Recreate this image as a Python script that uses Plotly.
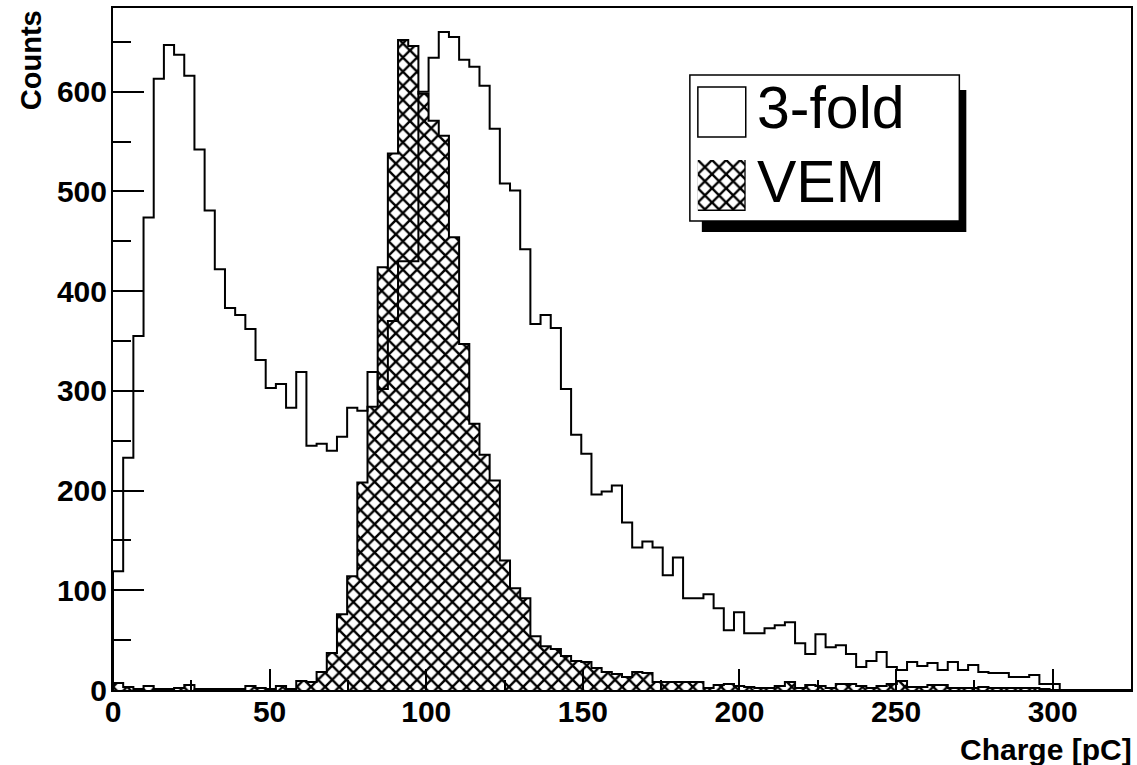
import plotly.graph_objects as go

# ---- data (100 bins, 0-325 pC, width 3.25 pC) ----
bin_low = 0.0
bin_width = 3.25
threefold_counts = [
    119, 233, 355, 474, 613, 647, 637, 616, 542, 481,
    422, 383, 376, 362, 331, 303, 307, 283, 319, 245,
    247, 240, 254, 283, 280, 319, 302, 370, 430, 430,
    600, 634, 660, 655, 632, 625, 606, 563, 508, 501,
    442, 367, 376, 363, 302, 256, 237, 196, 199, 205,
    168, 143, 149, 143, 115, 133, 92, 92, 96, 82,
    60, 78, 57, 57, 62, 65, 68, 47, 36, 56,
    43, 45, 36, 23, 29, 38, 23, 20, 28, 24,
    27, 20, 28, 20, 25, 18, 17, 17, 13, 13,
    15, 6, 6, 0, 0, 0, 0, 0, 0, 0,
]
vem_counts = [
    7, 3, 1, 4, 1, 1, 2, 5, 1, 1,
    1, 1, 1, 4, 2, 1, 4, 1, 9, 8,
    18, 37, 76, 114, 208, 284, 424, 538, 652, 646,
    598, 571, 556, 454, 347, 267, 236, 210, 130, 102,
    92, 54, 44, 41, 34, 29, 28, 22, 18, 16,
    13, 18, 17, 8, 8, 8, 8, 8, 2, 5,
    6, 4, 3, 2, 2, 4, 8, 2, 5, 4,
    2, 6, 6, 4, 2, 4, 6, 9, 3, 3,
    5, 5, 2, 2, 2, 3, 2, 2, 2, 2,
    2, 1, 0, 0, 0, 0, 0, 0, 0, 0,
]
x_tick_values = [0, 50, 100, 150, 200, 250, 300]
y_tick_values = [0, 100, 200, 300, 400, 500, 600]
series_names = ["3-fold", "VEM"]
x_title = "Charge [pC]"
y_title = "Counts"

n = len(threefold_counts)
edges = [bin_low + i * bin_width for i in range(n + 1)]
centers = [bin_low + (i + 0.5) * bin_width for i in range(n)]

# ---- layout geometry (pixels) ----
W, H = 1137, 765
L, R, T, B = 113, 4, 8, 75
PW, PH = W - L - R, H - T - B


def px(xp):
    return (xp - L) / PW


def py(yp):
    return (H - B - yp) / PH


FONT = "Liberation Sans"
hatch = dict(shape="x", fgcolor="black", size=10, solidity=0.42, fillmode="replace")

fig = go.Figure()

# 3-fold outline (step)
fig.add_trace(go.Scatter(
    x=[edges[0]] + edges, y=[0] + threefold_counts + [threefold_counts[-1]],
    mode="lines", line=dict(color="black", width=2, shape="hv"),
    showlegend=False, hoverinfo="skip"))

# VEM hatched fill
fig.add_trace(go.Bar(
    x=centers, y=vem_counts, width=bin_width,
    marker=dict(color="black", line=dict(width=0),
                pattern=dict(hatch, bgcolor="rgba(0,0,0,0)")),
    showlegend=False, hoverinfo="skip"))

# VEM outline
fig.add_trace(go.Scatter(
    x=[edges[0]] + edges, y=[0] + vem_counts + [vem_counts[-1]],
    mode="lines", line=dict(color="black", width=2, shape="hv"),
    showlegend=False, hoverinfo="skip"))

# legend hatched swatch drawn with a tiny bar on its own axes
fig.add_trace(go.Bar(
    x=[0], y=[1], width=1, xaxis="x2", yaxis="y2",
    marker=dict(color="black", line=dict(color="black", width=1.5),
                pattern=dict(hatch, bgcolor="white")),
    showlegend=False, hoverinfo="skip"))

tickfont = dict(family=FONT, size=30, color="black", weight="bold")

fig.update_layout(
    width=W, height=H,
    margin=dict(l=L, r=R, t=T, b=B, pad=0),
    paper_bgcolor="white", plot_bgcolor="white",
    bargap=0, barmode="overlay", showlegend=False,
    xaxis=dict(range=[0, 325], tickvals=x_tick_values, ticks="inside",
               ticklen=21, tickwidth=1.5, tickcolor="black",
               minor=dict(dtick=25, tick0=0, ticks="inside", ticklen=10,
                          tickwidth=1.5, tickcolor="black"),
               showline=True, linecolor="black", linewidth=2, mirror=True,
               showgrid=False, zeroline=False, tickfont=tickfont,
               ticklabelstandoff=-6),
    yaxis=dict(range=[0, 684], tickvals=y_tick_values, ticks="inside",
               ticklen=31, tickwidth=1.5, tickcolor="black",
               minor=dict(dtick=50, tick0=0, ticks="inside", ticklen=18,
                          tickwidth=1.5, tickcolor="black"),
               showline=True, linecolor="black", linewidth=2, mirror=True,
               showgrid=False, zeroline=False, tickfont=tickfont,
               ticklabelstandoff=-2),
    xaxis2=dict(domain=[px(699), px(747)], range=[-0.5, 0.5], anchor="y2",
                visible=False, fixedrange=True),
    yaxis2=dict(domain=[py(211), py(160)], range=[0, 1], anchor="x2",
                visible=False, fixedrange=True),
)

shapes = [
    # legend shadow
    dict(type="rect", xref="paper", yref="paper", x0=px(703), x1=px(968),
         y0=py(232), y1=py(90), fillcolor="black", line=dict(width=0), layer="below"),
    # legend box
    dict(type="rect", xref="paper", yref="paper", x0=px(691), x1=px(961),
         y0=py(221), y1=py(75), fillcolor="white",
         line=dict(color="black", width=1.5), layer="below"),
    # 3-fold swatch
    dict(type="rect", xref="paper", yref="paper", x0=px(699), x1=px(747),
         y0=py(137), y1=py(87), fillcolor="white",
         line=dict(color="black", width=1.5), layer="below"),
]
fig.update_layout(shapes=shapes)

annotations = [
    dict(text=series_names[0], xref="paper", yref="paper", x=px(756), y=py(108),
         xanchor="left", yanchor="middle", showarrow=False,
         font=dict(family=FONT, size=59, color="black")),
    dict(text=series_names[1], xref="paper", yref="paper", x=px(756), y=py(182),
         xanchor="left", yanchor="middle", showarrow=False,
         font=dict(family=FONT, size=59, color="black")),
    dict(text=x_title, xref="paper", yref="paper", x=px(1136), y=py(749),
         xanchor="right", yanchor="middle", showarrow=False,
         font=dict(family=FONT, size=30, color="black", weight="bold")),
    dict(text=y_title, xref="paper", yref="paper", x=px(31), y=py(8),
         xanchor="center", yanchor="top", textangle=-90, showarrow=False,
         font=dict(family=FONT, size=29, color="black", weight="bold")),
]
fig.update_layout(annotations=annotations)

fig.write_html("out.html")
